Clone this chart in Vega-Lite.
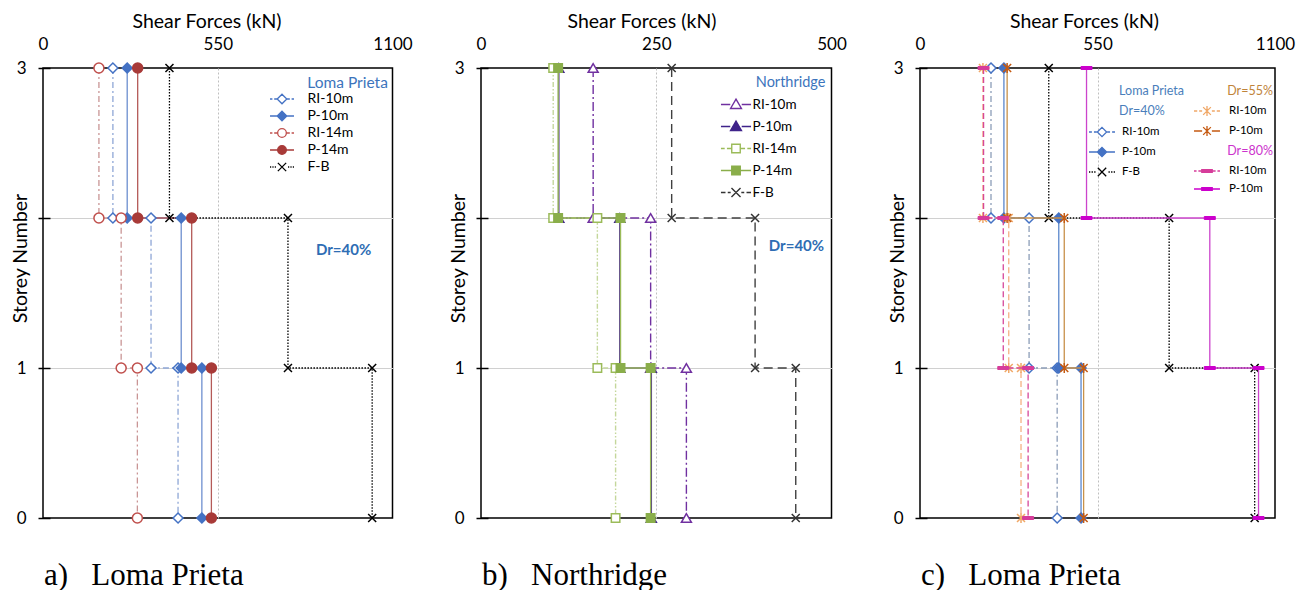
{
  "$schema": "https://vega.github.io/schema/vega-lite/v6.json",
  "background": "white",
  "padding": {"left": 9, "top": 10, "right": 5, "bottom": 5},
  "config": {
    "font": "Lato",
    "view": {"stroke": "black", "strokeWidth": 1.5},
    "axis": {"labelFont": "Lato", "titleFont": "Lato", "labelColor": "black", "titleColor": "black", "titleFontWeight": "normal", "labelFontSize": 17, "titleFontSize": 19.5, "domain": false, "tickColor": "black", "tickWidth": 1.5},
    "legend": {"labelFont": "Lato", "titleFont": "Lato", "titleFontWeight": "normal", "labelColor": "black"}
  },
  "datasets": {
    "a": [
      {"series": "RI-10m", "k": 0, "storey": 3, "force": 220}, {"series": "RI-10m", "k": 1, "storey": 2, "force": 220},
      {"series": "RI-10m", "k": 2, "storey": 2, "force": 340}, {"series": "RI-10m", "k": 3, "storey": 1, "force": 340},
      {"series": "RI-10m", "k": 4, "storey": 1, "force": 425}, {"series": "RI-10m", "k": 5, "storey": 0, "force": 425},
      {"series": "P-10m", "k": 0, "storey": 3, "force": 265}, {"series": "P-10m", "k": 1, "storey": 2, "force": 265},
      {"series": "P-10m", "k": 2, "storey": 2, "force": 435}, {"series": "P-10m", "k": 3, "storey": 1, "force": 435},
      {"series": "P-10m", "k": 4, "storey": 1, "force": 500}, {"series": "P-10m", "k": 5, "storey": 0, "force": 500},
      {"series": "RI-14m", "k": 0, "storey": 3, "force": 176}, {"series": "RI-14m", "k": 1, "storey": 2, "force": 176},
      {"series": "RI-14m", "k": 2, "storey": 2, "force": 246}, {"series": "RI-14m", "k": 3, "storey": 1, "force": 246},
      {"series": "RI-14m", "k": 4, "storey": 1, "force": 297}, {"series": "RI-14m", "k": 5, "storey": 0, "force": 297},
      {"series": "P-14m", "k": 0, "storey": 3, "force": 298}, {"series": "P-14m", "k": 1, "storey": 2, "force": 298},
      {"series": "P-14m", "k": 2, "storey": 2, "force": 468}, {"series": "P-14m", "k": 3, "storey": 1, "force": 468},
      {"series": "P-14m", "k": 4, "storey": 1, "force": 530}, {"series": "P-14m", "k": 5, "storey": 0, "force": 530},
      {"series": "F-B", "k": 0, "storey": 3, "force": 398}, {"series": "F-B", "k": 1, "storey": 2, "force": 398},
      {"series": "F-B", "k": 2, "storey": 2, "force": 771}, {"series": "F-B", "k": 3, "storey": 1, "force": 771},
      {"series": "F-B", "k": 4, "storey": 1, "force": 1036}, {"series": "F-B", "k": 5, "storey": 0, "force": 1036}
    ],
    "b": [
      {"series": "RI-10m", "k": 0, "storey": 3, "force": 160}, {"series": "RI-10m", "k": 1, "storey": 2, "force": 160},
      {"series": "RI-10m", "k": 2, "storey": 2, "force": 242}, {"series": "RI-10m", "k": 3, "storey": 1, "force": 242},
      {"series": "RI-10m", "k": 4, "storey": 1, "force": 293}, {"series": "RI-10m", "k": 5, "storey": 0, "force": 293},
      {"series": "P-10m", "k": 0, "storey": 3, "force": 111}, {"series": "P-10m", "k": 1, "storey": 2, "force": 111},
      {"series": "P-10m", "k": 2, "storey": 2, "force": 198}, {"series": "P-10m", "k": 3, "storey": 1, "force": 198},
      {"series": "P-10m", "k": 4, "storey": 1, "force": 243}, {"series": "P-10m", "k": 5, "storey": 0, "force": 243},
      {"series": "RI-14m", "k": 0, "storey": 3, "force": 103}, {"series": "RI-14m", "k": 1, "storey": 2, "force": 103},
      {"series": "RI-14m", "k": 2, "storey": 2, "force": 166}, {"series": "RI-14m", "k": 3, "storey": 1, "force": 166},
      {"series": "RI-14m", "k": 4, "storey": 1, "force": 192}, {"series": "RI-14m", "k": 5, "storey": 0, "force": 192},
      {"series": "P-14m", "k": 0, "storey": 3, "force": 110}, {"series": "P-14m", "k": 1, "storey": 2, "force": 110},
      {"series": "P-14m", "k": 2, "storey": 2, "force": 199}, {"series": "P-14m", "k": 3, "storey": 1, "force": 199},
      {"series": "P-14m", "k": 4, "storey": 1, "force": 242}, {"series": "P-14m", "k": 5, "storey": 0, "force": 242},
      {"series": "F-B", "k": 0, "storey": 3, "force": 272}, {"series": "F-B", "k": 1, "storey": 2, "force": 272},
      {"series": "F-B", "k": 2, "storey": 2, "force": 391}, {"series": "F-B", "k": 3, "storey": 1, "force": 391},
      {"series": "F-B", "k": 4, "storey": 1, "force": 449}, {"series": "F-B", "k": 5, "storey": 0, "force": 449}
    ],
    "c": [
      {"g": "40", "series": "40 RI-10m", "k": 0, "storey": 3, "force": 220}, {"g": "40", "series": "40 RI-10m", "k": 1, "storey": 2, "force": 220},
      {"g": "40", "series": "40 RI-10m", "k": 2, "storey": 2, "force": 338}, {"g": "40", "series": "40 RI-10m", "k": 3, "storey": 1, "force": 338},
      {"g": "40", "series": "40 RI-10m", "k": 4, "storey": 1, "force": 425}, {"g": "40", "series": "40 RI-10m", "k": 5, "storey": 0, "force": 425},
      {"g": "40", "series": "40 P-10m", "k": 0, "storey": 3, "force": 260}, {"g": "40", "series": "40 P-10m", "k": 1, "storey": 2, "force": 260},
      {"g": "40", "series": "40 P-10m", "k": 2, "storey": 2, "force": 430}, {"g": "40", "series": "40 P-10m", "k": 3, "storey": 1, "force": 430},
      {"g": "40", "series": "40 P-10m", "k": 4, "storey": 1, "force": 499}, {"g": "40", "series": "40 P-10m", "k": 5, "storey": 0, "force": 499},
      {"g": "40", "series": "F-B", "k": 0, "storey": 3, "force": 399}, {"g": "40", "series": "F-B", "k": 1, "storey": 2, "force": 399},
      {"g": "40", "series": "F-B", "k": 2, "storey": 2, "force": 772}, {"g": "40", "series": "F-B", "k": 3, "storey": 1, "force": 772},
      {"g": "40", "series": "F-B", "k": 4, "storey": 1, "force": 1037}, {"g": "40", "series": "F-B", "k": 5, "storey": 0, "force": 1037},
      {"g": "55", "series": "55 RI-10m", "k": 0, "storey": 3, "force": 195}, {"g": "55", "series": "55 RI-10m", "k": 1, "storey": 2, "force": 195},
      {"g": "55", "series": "55 RI-10m", "k": 2, "storey": 2, "force": 275}, {"g": "55", "series": "55 RI-10m", "k": 3, "storey": 1, "force": 275},
      {"g": "55", "series": "55 RI-10m", "k": 4, "storey": 1, "force": 313}, {"g": "55", "series": "55 RI-10m", "k": 5, "storey": 0, "force": 313},
      {"g": "55", "series": "55 P-10m", "k": 0, "storey": 3, "force": 270}, {"g": "55", "series": "55 P-10m", "k": 1, "storey": 2, "force": 270},
      {"g": "55", "series": "55 P-10m", "k": 2, "storey": 2, "force": 447}, {"g": "55", "series": "55 P-10m", "k": 3, "storey": 1, "force": 447},
      {"g": "55", "series": "55 P-10m", "k": 4, "storey": 1, "force": 507}, {"g": "55", "series": "55 P-10m", "k": 5, "storey": 0, "force": 507},
      {"g": "80", "series": "80 RI-10m", "k": 0, "storey": 3, "force": 197}, {"g": "80", "series": "80 RI-10m", "k": 1, "storey": 2, "force": 197},
      {"g": "80", "series": "80 RI-10m", "k": 2, "storey": 2, "force": 258}, {"g": "80", "series": "80 RI-10m", "k": 3, "storey": 1, "force": 258},
      {"g": "80", "series": "80 RI-10m", "k": 4, "storey": 1, "force": 335}, {"g": "80", "series": "80 RI-10m", "k": 5, "storey": 0, "force": 335},
      {"g": "80", "series": "80 P-10m", "k": 0, "storey": 3, "force": 516}, {"g": "80", "series": "80 P-10m", "k": 1, "storey": 2, "force": 516},
      {"g": "80", "series": "80 P-10m", "k": 2, "storey": 2, "force": 898}, {"g": "80", "series": "80 P-10m", "k": 3, "storey": 1, "force": 898},
      {"g": "80", "series": "80 P-10m", "k": 4, "storey": 1, "force": 1049}, {"g": "80", "series": "80 P-10m", "k": 5, "storey": 0, "force": 1049}
    ]
  },
  "spacing": 88,
  "bounds": "flush",
  "resolve": {
    "scale": {"color": "independent", "stroke": "independent", "fill": "independent", "shape": "independent", "strokeDash": "independent"},
    "legend": {"color": "independent", "stroke": "independent", "fill": "independent", "shape": "independent", "strokeDash": "independent"}
  },
  "hconcat": [
    {
      "width": 349.5,
      "height": 450,
      "title": {"text": "a)\u00a0\u00a0\u00a0Loma Prieta", "orient": "bottom", "anchor": "start", "frame": "group", "font": "Liberation Serif", "fontSize": 31, "fontWeight": "normal", "color": "black", "offset": 35, "dx": 1},
      "data": {"name": "a"},
      "encoding": {
        "x": {"field": "force", "type": "quantitative", "scale": {"domain": [0, 1100], "nice": false, "zero": false},
          "axis": {"orient": "top", "values": [0, 550, 1100], "format": "d", "title": "Shear Forces (kN)", "titleX": 163.5, "titleY": -41, "titleBaseline": "alphabetic", "titleAlign": "center", "ticks": false, "tickSize": 0, "labelPadding": 15, "labelFlush": false, "labelOverlap": false, "grid": true, "gridColor": "#BFBFBF", "gridDash": [2, 2], "gridOpacity": {"condition": {"test": "datum.value == 550", "value": 1}, "value": 0}}},
        "y": {"field": "storey", "type": "quantitative", "scale": {"domain": [0, 3], "nice": false},
          "axis": {"values": [0, 1, 2, 3], "labelExpr": "datum.value == 2 ? '' : datum.label", "title": "Storey Number", "titleX": -30, "titleY": 190, "titleBaseline": "middle", "titleAlign": "center", "titleAngle": 270, "offset": -7, "tickSize": 12, "labelPadding": 12, "grid": true, "gridColor": "#D0D0D0", "gridOpacity": {"condition": {"test": "datum.value == 1 || datum.value == 2", "value": 1}, "value": 0}}}
      },
      "resolve": {
        "scale": {"shape": "independent", "fill": "independent", "stroke": "independent"},
        "legend": {"shape": "independent", "fill": "independent", "stroke": "independent"}
      },
      "layer": [
        {
          "mark": {"type": "line", "strokeWidth": 1.3},
          "encoding": {
            "order": {"field": "k", "type": "quantitative"},
            "color": {"field": "series", "type": "nominal", "legend": {"disable": true, "orient": "left"}, "scale": {"domain": ["RI-10m", "P-10m", "RI-14m", "P-14m", "F-B"], "range": ["#8EA6D6", "#6D8FCF", "#C99595", "#B45A58", "#000000"]}},
            "strokeDash": {"field": "series", "type": "nominal", "legend": {"disable": true, "orient": "left"}, "scale": {"domain": ["RI-10m", "P-10m", "RI-14m", "P-14m", "F-B"], "range": [[6, 3, 2, 3], [1, 0], [6, 3, 2, 3], [1, 0], [1.5, 1.5]]}}
          }
        },
        {
          "mark": {"type": "point", "filled": true, "size": 100, "strokeWidth": 1.5, "opacity": 1},
          "encoding": {
            "shape": {"field": "series", "type": "nominal", "legend": {"disable": true, "orient": "left"}, "scale": {"domain": ["RI-10m", "P-10m", "RI-14m", "P-14m", "F-B"], "range": ["diamond", "diamond", "circle", "circle", "M-0.8,-0.8L0.8,0.8M-0.8,0.8L0.8,-0.8"]}},
            "fill": {"field": "series", "type": "nominal", "legend": {"disable": true, "orient": "left"}, "scale": {"domain": ["RI-10m", "P-10m", "RI-14m", "P-14m", "F-B"], "range": ["#FFFFFF", "#4472C4", "#FFFFFF", "#A83A38", "#000000"]}},
            "stroke": {"field": "series", "type": "nominal", "legend": {"disable": true, "orient": "left"}, "scale": {"domain": ["RI-10m", "P-10m", "RI-14m", "P-14m", "F-B"], "range": ["#4472C4", "#4472C4", "#C0504D", "#A83A38", "#000000"]}}
          }
        },
        {
          "transform": [{"filter": "false"}],
          "mark": {"type": "point", "filled": true, "strokeWidth": 1.3, "opacity": 1},
          "encoding": {
            "shape": {"field": "series", "type": "nominal", "scale": {"domain": ["RI-10m", "P-10m", "RI-14m", "P-14m", "F-B"], "range": ["M-1.41,0H-1.13M-0.92,0H-0.59M0.59,0H0.92M1.13,0H1.41M0,-0.565L0.565,0L0,0.565L-0.565,0Z", "M-1.41,0H-0.565M0.565,0H1.41M0,-0.565L0.565,0L0,0.565L-0.565,0Z", "M-1.41,0H-1.13M-0.92,0H-0.56M0.56,0H0.92M1.13,0H1.41M0.51,0A0.51,0.51,0,1,1,-0.51,0A0.51,0.51,0,1,1,0.51,0Z", "M-1.41,0H-0.51M0.51,0H1.41M0.51,0A0.51,0.51,0,1,1,-0.51,0A0.51,0.51,0,1,1,0.51,0Z", "M-1.41,0H-1.27M-1.13,0H-0.99M-0.85,0H-0.71M0.71,0H0.85M0.99,0H1.13M1.27,0H1.41M-0.49,-0.49L0.49,0.49M-0.49,0.49L0.49,-0.49"]},
              "legend": {"orient": "none", "legendX": 226, "legendY": 21.5, "title": null, "labelFontSize": 14, "symbolSize": 289, "symbolOffset": 3.5, "symbolStrokeWidth": 1.3, "rowPadding": 0, "labelOffset": 16, "padding": 0}},
            "fill": {"field": "series", "type": "nominal", "scale": {"domain": ["RI-10m", "P-10m", "RI-14m", "P-14m", "F-B"], "range": ["#FFFFFF", "#4472C4", "#FFFFFF", "#A83A38", "#FFFFFF"]},
              "legend": {"orient": "none", "legendX": 226, "legendY": 21.5, "title": null, "labelFontSize": 14, "symbolSize": 289, "symbolOffset": 3.5, "symbolStrokeWidth": 1.3, "rowPadding": 0, "labelOffset": 16, "padding": 0}},
            "stroke": {"field": "series", "type": "nominal", "scale": {"domain": ["RI-10m", "P-10m", "RI-14m", "P-14m", "F-B"], "range": ["#4472C4", "#4472C4", "#C0504D", "#A83A38", "#000000"]},
              "legend": {"orient": "none", "legendX": 226, "legendY": 21.5, "title": null, "labelFontSize": 14, "symbolSize": 289, "symbolOffset": 3.5, "symbolStrokeWidth": 1.3, "rowPadding": 0, "labelOffset": 16, "padding": 0}}
          }
        },
        {
          "transform": [{"filter": "datum.series == 'F-B' && datum.k == 0"}],
          "mark": {"type": "text", "fontSize": 15.5, "fill": "#3C74BC", "align": "left", "baseline": "middle"},
          "encoding": {"x": {"datum": 832, "type": "quantitative"}, "y": {"datum": 2.9, "type": "quantitative"}, "text": {"value": "Loma Prieta"}}
        },
        {
          "transform": [{"filter": "datum.series == 'F-B' && datum.k == 0"}],
          "mark": {"type": "text", "fontSize": 15, "fontWeight": "bold", "fill": "#2E6DB4", "align": "center", "baseline": "middle"},
          "encoding": {"x": {"datum": 946, "type": "quantitative"}, "y": {"datum": 1.785, "type": "quantitative"}, "text": {"value": "Dr=40%"}}
        }
      ]
    },
    {
      "width": 350.5,
      "height": 450,
      "title": {"text": "b)\u00a0\u00a0\u00a0Northridge", "orient": "bottom", "anchor": "start", "frame": "group", "font": "Liberation Serif", "fontSize": 31, "fontWeight": "normal", "color": "black", "offset": 35, "dx": 1},
      "data": {"name": "b"},
      "encoding": {
        "x": {"field": "force", "type": "quantitative", "scale": {"domain": [0, 500], "nice": false, "zero": false},
          "axis": {"orient": "top", "values": [0, 250, 500], "format": "d", "title": "Shear Forces (kN)", "titleX": 160.5, "titleY": -41, "titleBaseline": "alphabetic", "titleAlign": "center", "ticks": false, "tickSize": 0, "labelPadding": 15, "labelFlush": false, "labelOverlap": false, "grid": true, "gridColor": "#BFBFBF", "gridDash": [2, 2], "gridOpacity": {"condition": {"test": "datum.value == 250", "value": 1}, "value": 0}}},
        "y": {"field": "storey", "type": "quantitative", "scale": {"domain": [0, 3], "nice": false},
          "axis": {"values": [0, 1, 2, 3], "labelExpr": "datum.value == 2 ? '' : datum.label", "title": "Storey Number", "titleX": -30, "titleY": 190, "titleBaseline": "middle", "titleAlign": "center", "titleAngle": 270, "offset": -7, "tickSize": 12, "labelPadding": 12, "grid": true, "gridColor": "#D0D0D0", "gridOpacity": {"condition": {"test": "datum.value == 1 || datum.value == 2", "value": 1}, "value": 0}}}
      },
      "resolve": {
        "scale": {"shape": "independent", "fill": "independent", "stroke": "independent"},
        "legend": {"shape": "independent", "fill": "independent", "stroke": "independent"}
      },
      "layer": [
        {
          "mark": {"type": "line", "strokeWidth": 1.4},
          "encoding": {
            "order": {"field": "k", "type": "quantitative"},
            "color": {"field": "series", "type": "nominal", "legend": {"disable": true, "orient": "left"}, "scale": {"domain": ["RI-10m", "P-10m", "RI-14m", "P-14m", "F-B"], "range": ["#7030A0", "#4A2A8E", "#C4D79B", "#9BBB59", "#404040"]}},
            "strokeDash": {"field": "series", "type": "nominal", "legend": {"disable": true, "orient": "left"}, "scale": {"domain": ["RI-10m", "P-10m", "RI-14m", "P-14m", "F-B"], "range": [[9, 3, 2, 3], [1, 0], [5, 2, 1.5, 2, 1.5, 2], [1, 0], [9, 5]]}}
          }
        },
        {
          "mark": {"type": "point", "filled": true, "size": 100, "strokeWidth": 1.5, "opacity": 1},
          "encoding": {
            "shape": {"field": "series", "type": "nominal", "legend": {"disable": true, "orient": "left"}, "scale": {"domain": ["RI-10m", "P-10m", "RI-14m", "P-14m", "F-B"], "range": ["triangle-up", "triangle-up", "M-0.85,-0.85H0.85V0.85H-0.85Z", "M-0.85,-0.85H0.85V0.85H-0.85Z", "M-0.8,-0.8L0.8,0.8M-0.8,0.8L0.8,-0.8"]}},
            "fill": {"field": "series", "type": "nominal", "legend": {"disable": true, "orient": "left"}, "scale": {"domain": ["RI-10m", "P-10m", "RI-14m", "P-14m", "F-B"], "range": ["#FFFFFF", "#3F238A", "#FFFFFF", "#8AAE4A", "#333333"]}},
            "stroke": {"field": "series", "type": "nominal", "legend": {"disable": true, "orient": "left"}, "scale": {"domain": ["RI-10m", "P-10m", "RI-14m", "P-14m", "F-B"], "range": ["#7030A0", "#3F238A", "#9BBB59", "#8AAE4A", "#333333"]}}
          }
        },
        {
          "transform": [{"filter": "false"}],
          "mark": {"type": "point", "filled": true, "strokeWidth": 1.4, "opacity": 1},
          "encoding": {
            "shape": {"field": "series", "type": "nominal", "scale": {"domain": ["RI-10m", "P-10m", "RI-14m", "P-14m", "F-B"], "range": ["M-1.13,0H-0.43M0.43,0H1.13M0,-0.41L0.41,0.3L-0.41,0.3Z", "M-1.13,0H-0.43M0.43,0H1.13M0,-0.41L0.41,0.3L-0.41,0.3Z", "M-1.13,0H-0.85M-0.68,0H-0.34M0.34,0H0.68M0.85,0H1.13M-0.32,-0.32H0.32V0.32H-0.32Z", "M-1.13,0H-0.34M0.34,0H1.13M-0.32,-0.32H0.32V0.32H-0.32Z", "M-1.13,0H-0.79M-0.62,0H-0.4M0.4,0H0.62M0.79,0H1.13M-0.34,-0.34L0.34,0.34M-0.34,0.34L0.34,-0.34"]},
              "legend": {"orient": "none", "legendX": 238.5, "legendY": 22, "title": null, "labelFontSize": 13.5, "symbolSize": 708, "symbolOffset": 2, "symbolStrokeWidth": 1.4, "rowPadding": 0, "labelOffset": 2, "padding": 0}},
            "fill": {"field": "series", "type": "nominal", "scale": {"domain": ["RI-10m", "P-10m", "RI-14m", "P-14m", "F-B"], "range": ["#FFFFFF", "#3F238A", "#FFFFFF", "#8AAE4A", "#FFFFFF"]},
              "legend": {"orient": "none", "legendX": 238.5, "legendY": 22, "title": null, "labelFontSize": 13.5, "symbolSize": 708, "symbolOffset": 2, "symbolStrokeWidth": 1.4, "rowPadding": 0, "labelOffset": 2, "padding": 0}},
            "stroke": {"field": "series", "type": "nominal", "scale": {"domain": ["RI-10m", "P-10m", "RI-14m", "P-14m", "F-B"], "range": ["#7030A0", "#3F238A", "#9BBB59", "#8AAE4A", "#333333"]},
              "legend": {"orient": "none", "legendX": 238.5, "legendY": 22, "title": null, "labelFontSize": 13.5, "symbolSize": 708, "symbolOffset": 2, "symbolStrokeWidth": 1.4, "rowPadding": 0, "labelOffset": 2, "padding": 0}}
          }
        },
        {
          "transform": [{"filter": "datum.series == 'F-B' && datum.k == 0"}],
          "mark": {"type": "text", "fontSize": 14.5, "fill": "#3C74BC", "align": "left", "baseline": "middle"},
          "encoding": {"x": {"datum": 392, "type": "quantitative"}, "y": {"datum": 2.9, "type": "quantitative"}, "text": {"value": "Northridge"}}
        },
        {
          "transform": [{"filter": "datum.series == 'F-B' && datum.k == 0"}],
          "mark": {"type": "text", "fontSize": 15, "fontWeight": "bold", "fill": "#2E6DB4", "align": "center", "baseline": "middle"},
          "encoding": {"x": {"datum": 450, "type": "quantitative"}, "y": {"datum": 1.813, "type": "quantitative"}, "text": {"value": "Dr=40%"}}
        }
      ]
    },
    {
      "width": 355,
      "height": 450,
      "title": {"text": "c)\u00a0\u00a0\u00a0Loma Prieta", "orient": "bottom", "anchor": "start", "frame": "group", "font": "Liberation Serif", "fontSize": 31, "fontWeight": "normal", "color": "black", "offset": 35, "dx": 1},
      "data": {"name": "c"},
      "encoding": {
        "x": {"field": "force", "type": "quantitative", "scale": {"domain": [0, 1100], "nice": false, "zero": false},
          "axis": {"orient": "top", "values": [0, 550, 1100], "format": "d", "title": "Shear Forces (kN)", "titleX": 164, "titleY": -41, "titleBaseline": "alphabetic", "titleAlign": "center", "ticks": false, "tickSize": 0, "labelPadding": 15, "labelFlush": false, "labelOverlap": false, "grid": true, "gridColor": "#BFBFBF", "gridDash": [2, 2], "gridOpacity": {"condition": {"test": "datum.value == 550", "value": 1}, "value": 0}}},
        "y": {"field": "storey", "type": "quantitative", "scale": {"domain": [0, 3], "nice": false},
          "axis": {"values": [0, 1, 2, 3], "labelExpr": "datum.value == 2 ? '' : datum.label", "title": "Storey Number", "titleX": -30, "titleY": 190, "titleBaseline": "middle", "titleAlign": "center", "titleAngle": 270, "offset": -7, "tickSize": 12, "labelPadding": 12, "grid": true, "gridColor": "#D0D0D0", "gridOpacity": {"condition": {"test": "datum.value == 1 || datum.value == 2", "value": 1}, "value": 0}}}
      },
      "resolve": {
        "scale": {"color": "independent", "stroke": "independent", "fill": "independent", "shape": "independent", "strokeDash": "independent"},
        "legend": {"color": "independent", "stroke": "independent", "fill": "independent", "shape": "independent", "strokeDash": "independent"}
      },
      "layer": [
        {
          "transform": [{"filter": "datum.g == '40'"}],
          "resolve": {
            "scale": {"shape": "independent", "fill": "independent", "stroke": "independent"},
            "legend": {"shape": "independent", "fill": "independent", "stroke": "independent"}
          },
          "layer": [
            {
              "mark": {"type": "line", "strokeWidth": 1.3},
              "encoding": {
                "order": {"field": "k", "type": "quantitative"},
                "color": {"field": "series", "type": "nominal", "legend": {"disable": true, "orient": "left"}, "scale": {"domain": ["40 RI-10m", "40 P-10m", "F-B"], "range": ["#8C9DB8", "#5A87CC", "#000000"]}},
                "strokeDash": {"field": "series", "type": "nominal", "legend": {"disable": true, "orient": "left"}, "scale": {"domain": ["40 RI-10m", "40 P-10m", "F-B"], "range": [[6, 3, 2, 3], [1, 0], [1.5, 1.5]]}}
              }
            },
            {
              "mark": {"type": "point", "filled": true, "size": 100, "strokeWidth": 1.5, "opacity": 1},
              "encoding": {
                "shape": {"field": "series", "type": "nominal", "legend": {"disable": true, "orient": "left"}, "scale": {"domain": ["40 RI-10m", "40 P-10m", "F-B"], "range": ["diamond", "diamond", "M-0.8,-0.8L0.8,0.8M-0.8,0.8L0.8,-0.8"]}},
                "fill": {"field": "series", "type": "nominal", "legend": {"disable": true, "orient": "left"}, "scale": {"domain": ["40 RI-10m", "40 P-10m", "F-B"], "range": ["#FFFFFF", "#4472C4", "#000000"]}},
                "stroke": {"field": "series", "type": "nominal", "legend": {"disable": true, "orient": "left"}, "scale": {"domain": ["40 RI-10m", "40 P-10m", "F-B"], "range": ["#4472C4", "#4472C4", "#000000"]}}
              }
            },
            {
              "transform": [{"filter": "false"}],
              "mark": {"type": "point", "filled": true, "strokeWidth": 1.3, "opacity": 1},
              "encoding": {
                "shape": {"field": "series", "type": "nominal", "scale": {"domain": ["40 RI-10m", "40 P-10m", "F-B"], "range": ["M-1.145,0H-0.89M-0.71,0H-0.46M0.46,0H0.71M0.89,0H1.145M0,-0.41L0.41,0L0,0.41L-0.41,0Z", "M-1.145,0H-0.41M0.41,0H1.145M0,-0.41L0.41,0L0,0.41L-0.41,0Z", "M-1.145,0H-1.03M-0.92,0H-0.8M-0.69,0H-0.57M0.57,0H0.69M0.8,0H0.92M1.03,0H1.145M-0.37,-0.37L0.37,0.37M-0.37,0.37L0.37,-0.37"]},
                  "legend": {"orient": "none", "legendX": 168, "legendY": 52, "title": null, "labelFontSize": 11.5, "symbolSize": 515, "symbolOffset": 2, "symbolStrokeWidth": 1.3, "rowPadding": 0, "labelOffset": 8, "padding": 0, "labelExpr": "indexof(datum.label, ' ') > 0 ? slice(datum.label, 3) : datum.label"}},
                "fill": {"field": "series", "type": "nominal", "scale": {"domain": ["40 RI-10m", "40 P-10m", "F-B"], "range": ["#FFFFFF", "#4472C4", "#FFFFFF"]},
                  "legend": {"orient": "none", "legendX": 168, "legendY": 52, "title": null, "labelFontSize": 11.5, "symbolSize": 515, "symbolOffset": 2, "symbolStrokeWidth": 1.3, "rowPadding": 0, "labelOffset": 8, "padding": 0, "labelExpr": "indexof(datum.label, ' ') > 0 ? slice(datum.label, 3) : datum.label"}},
                "stroke": {"field": "series", "type": "nominal", "scale": {"domain": ["40 RI-10m", "40 P-10m", "F-B"], "range": ["#4472C4", "#4472C4", "#000000"]},
                  "legend": {"orient": "none", "legendX": 168, "legendY": 52, "title": null, "labelFontSize": 11.5, "symbolSize": 515, "symbolOffset": 2, "symbolStrokeWidth": 1.3, "rowPadding": 0, "labelOffset": 8, "padding": 0, "labelExpr": "indexof(datum.label, ' ') > 0 ? slice(datum.label, 3) : datum.label"}}
              }
            }
          ]
        },
        {
          "transform": [{"filter": "datum.g == '55'"}],
          "resolve": {
            "scale": {"shape": "independent", "fill": "independent", "stroke": "independent"},
            "legend": {"shape": "independent", "fill": "independent", "stroke": "independent"}
          },
          "layer": [
            {
              "mark": {"type": "line", "strokeWidth": 1.3},
              "encoding": {
                "order": {"field": "k", "type": "quantitative"},
                "color": {"field": "series", "type": "nominal", "legend": {"disable": true, "orient": "left"}, "scale": {"domain": ["55 RI-10m", "55 P-10m"], "range": ["#F4B183", "#C8914A"]}},
                "strokeDash": {"field": "series", "type": "nominal", "legend": {"disable": true, "orient": "left"}, "scale": {"domain": ["55 RI-10m", "55 P-10m"], "range": [[6, 3], [1, 0]]}}
              }
            },
            {
              "mark": {"type": "point", "filled": true, "size": 100, "strokeWidth": 1.5, "opacity": 1},
              "encoding": {
                "shape": {"field": "series", "type": "nominal", "legend": {"disable": true, "orient": "left"}, "scale": {"domain": ["55 RI-10m", "55 P-10m"], "range": ["M-0.8,-0.8L0.8,0.8M-0.8,0.8L0.8,-0.8M0,-1V1", "M-0.8,-0.8L0.8,0.8M-0.8,0.8L0.8,-0.8M0,-1V1"]}},
                "fill": {"field": "series", "type": "nominal", "legend": {"disable": true, "orient": "left"}, "scale": {"domain": ["55 RI-10m", "55 P-10m"], "range": ["#F0A868", "#C55A11"]}},
                "stroke": {"field": "series", "type": "nominal", "legend": {"disable": true, "orient": "left"}, "scale": {"domain": ["55 RI-10m", "55 P-10m"], "range": ["#F0A868", "#C55A11"]}}
              }
            },
            {
              "transform": [{"filter": "false"}],
              "mark": {"type": "point", "filled": true, "strokeWidth": 1.3, "opacity": 1},
              "encoding": {
                "shape": {"field": "series", "type": "nominal", "scale": {"domain": ["55 RI-10m", "55 P-10m"], "range": ["M-1.145,0H-0.86M-0.69,0H-0.43M0.43,0H0.69M0.86,0H1.145M-0.34,-0.34L0.34,0.34M-0.34,0.34L0.34,-0.34M0,-0.43V0.43", "M-1.145,0H-0.43M0.43,0H1.145M-0.34,-0.34L0.34,0.34M-0.34,0.34L0.34,-0.34M0,-0.43V0.43"]},
                  "legend": {"orient": "none", "legendX": 273, "legendY": 31, "title": null, "labelFontSize": 11.5, "symbolSize": 515, "symbolOffset": 2, "symbolStrokeWidth": 1.3, "rowPadding": 0, "labelOffset": 10, "padding": 0, "labelExpr": "slice(datum.label, 3)"}},
                "fill": {"field": "series", "type": "nominal", "scale": {"domain": ["55 RI-10m", "55 P-10m"], "range": ["#F0A868", "#C55A11"]},
                  "legend": {"orient": "none", "legendX": 273, "legendY": 31, "title": null, "labelFontSize": 11.5, "symbolSize": 515, "symbolOffset": 2, "symbolStrokeWidth": 1.3, "rowPadding": 0, "labelOffset": 10, "padding": 0, "labelExpr": "slice(datum.label, 3)"}},
                "stroke": {"field": "series", "type": "nominal", "scale": {"domain": ["55 RI-10m", "55 P-10m"], "range": ["#F0A868", "#C55A11"]},
                  "legend": {"orient": "none", "legendX": 273, "legendY": 31, "title": null, "labelFontSize": 11.5, "symbolSize": 515, "symbolOffset": 2, "symbolStrokeWidth": 1.3, "rowPadding": 0, "labelOffset": 10, "padding": 0, "labelExpr": "slice(datum.label, 3)"}}
              }
            }
          ]
        },
        {
          "transform": [{"filter": "datum.g == '80'"}],
          "resolve": {
            "scale": {"shape": "independent", "fill": "independent", "stroke": "independent"},
            "legend": {"shape": "independent", "fill": "independent", "stroke": "independent"}
          },
          "layer": [
            {
              "mark": {"type": "line", "strokeWidth": 1.3},
              "encoding": {
                "order": {"field": "k", "type": "quantitative"},
                "color": {"field": "series", "type": "nominal", "legend": {"disable": true, "orient": "left"}, "scale": {"domain": ["80 RI-10m", "80 P-10m"], "range": ["#D6479A", "#CC44CC"]}},
                "strokeDash": {"field": "series", "type": "nominal", "legend": {"disable": true, "orient": "left"}, "scale": {"domain": ["80 RI-10m", "80 P-10m"], "range": [[6, 3], [1, 0]]}}
              }
            },
            {
              "mark": {"type": "point", "filled": true, "size": 100, "strokeWidth": 1, "opacity": 1},
              "encoding": {
                "shape": {"field": "series", "type": "nominal", "legend": {"disable": true, "orient": "left"}, "scale": {"domain": ["80 RI-10m", "80 P-10m"], "range": ["M-1.1,-0.3H1.1V0.3H-1.1Z", "M-1.1,-0.3H1.1V0.3H-1.1Z"]}},
                "fill": {"field": "series", "type": "nominal", "legend": {"disable": true, "orient": "left"}, "scale": {"domain": ["80 RI-10m", "80 P-10m"], "range": ["#D63C9A", "#CC00CC"]}},
                "stroke": {"field": "series", "type": "nominal", "legend": {"disable": true, "orient": "left"}, "scale": {"domain": ["80 RI-10m", "80 P-10m"], "range": ["#D63C9A", "#CC00CC"]}}
              }
            },
            {
              "transform": [{"filter": "false"}],
              "mark": {"type": "point", "filled": true, "strokeWidth": 1.3, "opacity": 1},
              "encoding": {
                "shape": {"field": "series", "type": "nominal", "scale": {"domain": ["80 RI-10m", "80 P-10m"], "range": ["M-1.145,0H-0.92M-0.76,0H-0.48M0.48,0H0.76M0.92,0H1.145M-0.46,-0.115H0.46V0.115H-0.46Z", "M-1.145,0H-0.46M0.46,0H1.145M-0.46,-0.115H0.46V0.115H-0.46Z"]},
                  "legend": {"orient": "none", "legendX": 273, "legendY": 91, "title": null, "labelFontSize": 11.5, "symbolSize": 515, "symbolOffset": 2, "symbolStrokeWidth": 1.3, "rowPadding": 0, "labelOffset": 10, "padding": 0, "labelExpr": "slice(datum.label, 3)"}},
                "fill": {"field": "series", "type": "nominal", "scale": {"domain": ["80 RI-10m", "80 P-10m"], "range": ["#D63C9A", "#CC00CC"]},
                  "legend": {"orient": "none", "legendX": 273, "legendY": 91, "title": null, "labelFontSize": 11.5, "symbolSize": 515, "symbolOffset": 2, "symbolStrokeWidth": 1.3, "rowPadding": 0, "labelOffset": 10, "padding": 0, "labelExpr": "slice(datum.label, 3)"}},
                "stroke": {"field": "series", "type": "nominal", "scale": {"domain": ["80 RI-10m", "80 P-10m"], "range": ["#D63C9A", "#CC00CC"]},
                  "legend": {"orient": "none", "legendX": 273, "legendY": 91, "title": null, "labelFontSize": 11.5, "symbolSize": 515, "symbolOffset": 2, "symbolStrokeWidth": 1.3, "rowPadding": 0, "labelOffset": 10, "padding": 0, "labelExpr": "slice(datum.label, 3)"}}
              }
            }
          ]
        },
        {
          "transform": [{"filter": "datum.series == 'F-B' && datum.k == 0"}],
          "mark": {"type": "text", "fontSize": 12.5, "fill": "#4A7EBB", "align": "left", "baseline": "middle"},
          "encoding": {"x": {"datum": 617, "type": "quantitative"}, "y": {"datum": 2.847, "type": "quantitative"}, "text": {"value": "Loma Prieta"}}
        },
        {
          "transform": [{"filter": "datum.series == 'F-B' && datum.k == 0"}],
          "mark": {"type": "text", "fontSize": 12.5, "fill": "#4A7EBB", "align": "left", "baseline": "middle"},
          "encoding": {"x": {"datum": 617, "type": "quantitative"}, "y": {"datum": 2.713, "type": "quantitative"}, "text": {"value": "Dr=40%"}}
        },
        {
          "transform": [{"filter": "datum.series == 'F-B' && datum.k == 0"}],
          "mark": {"type": "text", "fontSize": 12.5, "fill": "#C0843A", "align": "left", "baseline": "middle"},
          "encoding": {"x": {"datum": 952, "type": "quantitative"}, "y": {"datum": 2.847, "type": "quantitative"}, "text": {"value": "Dr=55%"}}
        },
        {
          "transform": [{"filter": "datum.series == 'F-B' && datum.k == 0"}],
          "mark": {"type": "text", "fontSize": 12.5, "fill": "#CC33CC", "align": "left", "baseline": "middle"},
          "encoding": {"x": {"datum": 952, "type": "quantitative"}, "y": {"datum": 2.447, "type": "quantitative"}, "text": {"value": "Dr=80%"}}
        }
      ]
    }
  ]
}
